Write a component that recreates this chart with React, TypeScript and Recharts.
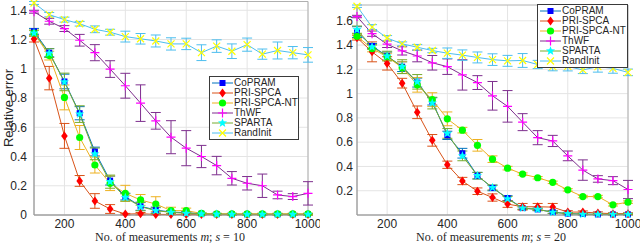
import React from 'react';
import { LineChart, Line, XAxis, YAxis, CartesianGrid, ErrorBar, ReferenceArea, Legend } from 'recharts';

const measurements = [100, 150, 200, 250, 300, 350, 400, 450, 500, 550, 600, 650, 700, 750, 800, 850, 900, 950, 1000];

// s = 10
const copram10 = [1.256, 1.11, 0.913, 0.696, 0.434, 0.235, 0.126, 0.06, 0.034, 0.02, 0.016, 0.009, 0.006, 0.005, 0.005, 0.005, 0.005, 0.005, 0.005];
const copramErr10 = [0.02, 0.028, 0.05, 0.045, 0.03, 0.03, 0.023, 0.028, 0.02, 0.01, 0.008, 0.005, 0.004, 0.004, 0.004, 0.004, 0.004, 0.004, 0.004];
const spca10 = [1.203, 0.936, 0.541, 0.233, 0.096, 0.041, 0.006, 0.009, 0.004, 0.004, 0.003, 0.003, 0.003, 0.003, 0.003, 0.003, 0.003, 0.003, 0.003];
const spcaErr10 = [0.02, 0.08, 0.085, 0.037, 0.05, 0.03, 0.005, 0.008, 0.003, 0.003, 0.003, 0.003, 0.003, 0.003, 0.003, 0.003, 0.003, 0.003, 0.003];
const spcaNt10 = [1.244, 1.09, 0.804, 0.53, 0.342, 0.217, 0.148, 0.103, 0.075, 0.03, 0.03, 0.011, 0.008, 0.008, 0.008, 0.008, 0.008, 0.008, 0.008];
const spcaNtErr10 = [0.02, 0.03, 0.085, 0.082, 0.055, 0.05, 0.055, 0.037, 0.05, 0.023, 0.017, 0.006, 0.005, 0.005, 0.005, 0.005, 0.005, 0.005, 0.005];
const thwf10 = [1.39, 1.325, 1.275, 1.195, 1.11, 0.998, 0.884, 0.765, 0.644, 0.532, 0.457, 0.4, 0.338, 0.251, 0.217, 0.2, 0.137, 0.126, 0.148];
const thwfErr10 = [0.01, 0.02, 0.02, 0.04, 0.055, 0.057, 0.085, 0.125, 0.057, 0.113, 0.12, 0.076, 0.063, 0.046, 0.046, 0.08, 0.026, 0.02, 0.08];
const sparta10 = [1.244, 1.107, 0.91, 0.69, 0.418, 0.228, 0.12, 0.057, 0.03, 0.018, 0.011, 0.007, 0.006, 0.005, 0.005, 0.005, 0.005, 0.005, 0.005];
const spartaErr10 = [0.02, 0.03, 0.06, 0.057, 0.04, 0.045, 0.025, 0.028, 0.02, 0.01, 0.008, 0.005, 0.004, 0.004, 0.004, 0.004, 0.004, 0.004, 0.004];
const rand10 = [1.45, 1.37, 1.336, 1.308, 1.27, 1.25, 1.22, 1.205, 1.19, 1.17, 1.17, 1.11, 1.155, 1.12, 1.165, 1.1, 1.125, 1.11, 1.095];
const randErr10 = [0.01, 0.015, 0.017, 0.016, 0.023, 0.02, 0.037, 0.036, 0.041, 0.042, 0.039, 0.054, 0.043, 0.05, 0.045, 0.035, 0.058, 0.042, 0.05];

// s = 20
const copram20 = [1.507, 1.393, 1.309, 1.222, 1.091, 0.936, 0.656, 0.509, 0.324, 0.223, 0.139, 0.057, 0.046, 0.024, 0.011, 0.008, 0.005, 0.005, 0.005];
const copramErr20 = [0.044, 0.02, 0.033, 0.04, 0.037, 0.03, 0.034, 0.04, 0.027, 0.023, 0.02, 0.01, 0.01, 0.01, 0.008, 0.006, 0.004, 0.004, 0.004];
const spca20 = [1.461, 1.344, 1.249, 1.086, 0.846, 0.615, 0.414, 0.28, 0.196, 0.144, 0.09, 0.068, 0.068, 0.065, 0.024, 0.024, 0.016, 0.011, 0.011];
const spcaErr20 = [0.02, 0.082, 0.055, 0.04, 0.052, 0.048, 0.03, 0.03, 0.027, 0.03, 0.027, 0.027, 0.027, 0.03, 0.012, 0.01, 0.01, 0.008, 0.008];
const spcaNt20 = [1.472, 1.371, 1.303, 1.214, 1.072, 0.95, 0.792, 0.699, 0.574, 0.46, 0.386, 0.337, 0.307, 0.269, 0.207, 0.152, 0.152, 0.084, 0.106];
const spcaNtErr20 = [0.02, 0.027, 0.03, 0.048, 0.06, 0.057, 0.057, 0.023, 0.048, 0.027, 0.015, 0.01, 0.01, 0.01, 0.01, 0.01, 0.01, 0.01, 0.01];
const thwf20 = [1.635, 1.494, 1.407, 1.352, 1.31, 1.254, 1.222, 1.154, 1.091, 0.982, 0.895, 0.765, 0.637, 0.61, 0.487, 0.37, 0.297, 0.283, 0.21];
const thwfErr20 = [0.01, 0.022, 0.027, 0.034, 0.048, 0.06, 0.064, 0.125, 0.057, 0.118, 0.13, 0.07, 0.058, 0.046, 0.04, 0.084, 0.027, 0.033, 0.075];
const sparta20 = [1.527, 1.385, 1.309, 1.222, 1.097, 0.922, 0.672, 0.487, 0.324, 0.226, 0.133, 0.057, 0.046, 0.022, 0.011, 0.006, 0.006, 0.006, 0.006];
const spartaErr20 = [0.03, 0.02, 0.04, 0.057, 0.06, 0.048, 0.04, 0.04, 0.027, 0.02, 0.02, 0.01, 0.01, 0.01, 0.008, 0.005, 0.005, 0.005, 0.005];
const rand20 = [1.72, 1.548, 1.458, 1.41, 1.382, 1.355, 1.333, 1.317, 1.298, 1.28, 1.27, 1.273, 1.24, 1.222, 1.224, 1.195, 1.222, 1.208, 1.175];
const randErr20 = [0.01, 0.02, 0.02, 0.016, 0.023, 0.018, 0.043, 0.043, 0.045, 0.048, 0.045, 0.057, 0.034, 0.034, 0.037, 0.03, 0.045, 0.04, 0.027];

const xTicks = [200, 400, 600, 800, 1000];
const yTicks10 = [0, 0.2, 0.4, 0.6, 0.8, 1, 1.2, 1.4];
const yTicks20 = [0.2, 0.4, 0.6, 0.8, 1, 1.2, 1.4, 1.6];

type Shape = 'square' | 'diamond' | 'circle' | 'plus' | 'star' | 'cross';

const series: { key: string; name: string; line: string; marker: string; shape: Shape }[] = [
    { key: 'copram', name: 'CoPRAM', line: '#0072BD', marker: '#0000FF', shape: 'square' },
    { key: 'spca', name: 'PRI-SPCA', line: '#D95319', marker: '#FF0000', shape: 'diamond' },
    { key: 'spcaNt', name: 'PRI-SPCA-NT', line: '#EDB120', marker: '#00FF00', shape: 'circle' },
    { key: 'thwf', name: 'ThWF', line: '#7E2F8E', marker: '#FF00FF', shape: 'plus' },
    { key: 'sparta', name: 'SPARTA', line: '#77AC30', marker: '#00FFFF', shape: 'star' },
    { key: 'rand', name: 'RandInit', line: '#4DBEEE', marker: '#FFFF00', shape: 'cross' },
];

const buildData = (vals: Record<string, number[]>, errs: Record<string, number[]>) =>
    measurements.map((m, i) => {
        const row: Record<string, number> = { m };
        Object.keys(vals).forEach(k => {
            row[k] = vals[k][i];
            row[k + 'Err'] = errs[k][i];
        });
        return row;
    });

const data10 = buildData(
    { copram: copram10, spca: spca10, spcaNt: spcaNt10, thwf: thwf10, sparta: sparta10, rand: rand10 },
    { copram: copramErr10, spca: spcaErr10, spcaNt: spcaNtErr10, thwf: thwfErr10, sparta: spartaErr10, rand: randErr10 }
);
const data20 = buildData(
    { copram: copram20, spca: spca20, spcaNt: spcaNt20, thwf: thwf20, sparta: sparta20, rand: rand20 },
    { copram: copramErr20, spca: spcaErr20, spcaNt: spcaNtErr20, thwf: thwfErr20, sparta: spartaErr20, rand: randErr20 }
);

const starPoints = (cx: number, cy: number, r: number) => {
    const pts: string[] = [];
    for (let i = 0; i < 10; i++) {
        const rr = i % 2 === 0 ? r : r * 0.42;
        const a = -Math.PI / 2 + (i * Math.PI) / 5;
        pts.push(`${cx + rr * Math.cos(a)},${cy + rr * Math.sin(a)}`);
    }
    return pts.join(' ');
};

const Marker = ({ shape, color, cx, cy }: { shape: Shape; color: string; cx: number; cy: number }) => {
    switch (shape) {
        case 'square':
            return <rect x={cx - 3} y={cy - 3} width={6} height={6} fill={color} />;
        case 'diamond':
            return <polygon points={`${cx},${cy - 4.5} ${cx + 3.3},${cy} ${cx},${cy + 4.5} ${cx - 3.3},${cy}`} fill={color} />;
        case 'circle':
            return <circle cx={cx} cy={cy} r={3.6} fill={color} />;
        case 'plus':
            return <path d={`M${cx - 4.5},${cy}H${cx + 4.5}M${cx},${cy - 4.5}V${cy + 4.5}`} stroke={color} strokeWidth={1.2} fill="none" />;
        case 'star':
            return <polygon points={starPoints(cx, cy, 4.8)} fill={color} />;
        default:
            return <path d={`M${cx - 3.5},${cy - 3.5}L${cx + 3.5},${cy + 3.5}M${cx - 3.5},${cy + 3.5}L${cx + 3.5},${cy - 3.5}`} stroke={color} strokeWidth={1.2} fill="none" />;
    }
};

const LegendBox = () => (
    <div style={{ border: '1px solid #3a3a3a', background: '#fff', padding: '1px 0 1px 0', boxSizing: 'border-box' }}>
        {series.map(s => (
            <div key={s.key} style={{ display: 'flex', alignItems: 'center', height: 10 }}>
                <svg width={24} height={10} style={{ flex: 'none' }}>
                    <line x1={2} y1={5} x2={23} y2={5} stroke={s.line} strokeWidth={1} />
                    <Marker shape={s.shape} color={s.marker} cx={12.5} cy={5} />
                </svg>
                <span style={{ fontFamily: '"Liberation Sans", Arial, sans-serif', fontSize: 10, color: '#262626', lineHeight: '10px', whiteSpace: 'nowrap' }}>
                    {s.name}
                </span>
            </div>
        ))}
    </div>
);

const tickStyle = { fontFamily: '"Liberation Sans", Arial, sans-serif', fontSize: 12, fill: '#262626' };

interface PanelProps {
    data: Record<string, number>[];
    yMax: number;
    yTicks: number[];
    top: number;
    yAxisWidth: number;
    yTickGap: number;
    legendPos: { left: number; top: number; width: number };
}

const Panel: React.FC<PanelProps> = ({ data, yMax, yTicks, top, yAxisWidth, yTickGap, legendPos }) => (
    <LineChart width={320} height={244} data={data} margin={{ top, right: 12, bottom: 0, left: 0 }}>
        <CartesianGrid stroke="#e4e4e4" horizontalValues={yTicks} verticalValues={xTicks} />
        <XAxis
            dataKey="m"
            type="number"
            domain={[100, 1000]}
            ticks={xTicks}
            height={29}
            tickLine={false}
            tickSize={0}
            tickMargin={4}
            stroke="#9a9a9a"
            tick={tickStyle}
        />
        <YAxis
            type="number"
            domain={[0, yMax]}
            ticks={yTicks}
            width={yAxisWidth}
            tickLine={false}
            tickSize={0}
            tickMargin={yTickGap}
            stroke="#9a9a9a"
            tick={tickStyle}
            tickFormatter={(v: number) => String(+v.toFixed(1))}
        />
        <ReferenceArea x1={100} x2={1000} y1={0} y2={yMax} fill="none" stroke="#b0b0b0" strokeWidth={1} />
        {series.map(s => (
            <Line
                key={s.key}
                dataKey={s.key}
                name={s.name}
                stroke={s.line}
                strokeWidth={1}
                isAnimationActive={false}
                dot={(p: any) => <Marker key={`${s.key}-${p.index}`} shape={s.shape} color={s.marker} cx={p.cx} cy={p.cy} />}
                activeDot={false}
            >
                <ErrorBar dataKey={s.key + 'Err'} width={5} stroke={s.line} strokeWidth={1} direction="y" />
            </Line>
        ))}
        <Legend
            layout="vertical"
            align="center"
            verticalAlign="middle"
            wrapperStyle={{ left: legendPos.left, top: legendPos.top, width: legendPos.width }}
            content={() => <LegendBox />}
        />
    </LineChart>
);

const xLabelStyle: React.CSSProperties = {
    position: 'absolute',
    top: 231,
    transform: 'translateX(-50%)',
    fontFamily: '"Liberation Serif", "Times New Roman", serif',
    fontSize: 12,
    lineHeight: '13px',
    color: '#262626',
    whiteSpace: 'nowrap',
};

export default function App() {
    return (
        <div style={{ position: 'absolute', left: 0, top: 0, width: 640, height: 244, background: '#fff', overflow: 'hidden' }}>
            <div style={{ position: 'absolute', left: 0, top: 0 }}>
                <Panel
                    data={data10}
                    yMax={1.46}
                    yTicks={yTicks10}
                    top={1.5}
                    yAxisWidth={34}
                    yTickGap={7}
                    legendPos={{ left: 209, top: 76, width: 90 }}
                />
            </div>
            <div style={{ position: 'absolute', left: 320, top: 0 }}>
                <Panel
                    data={data20}
                    yMax={1.73}
                    yTicks={yTicks20}
                    top={5}
                    yAxisWidth={37}
                    yTickGap={4}
                    legendPos={{ left: 217, top: 4, width: 91 }}
                />
            </div>
            <div
                style={{
                    position: 'absolute',
                    left: 7.6,
                    top: 108,
                    transform: 'translate(-50%, -50%) rotate(-90deg)',
                    fontFamily: '"Liberation Sans", Arial, sans-serif',
                    fontSize: 13,
                    color: '#262626',
                    whiteSpace: 'nowrap',
                }}
            >
                Relative error
            </div>
            <div style={{ ...xLabelStyle, left: 170 }}>
                No. of measurements <i>m</i>; <i>s</i> = 10
            </div>
            <div style={{ ...xLabelStyle, left: 491 }}>
                No. of measurements <i>m</i>; <i>s</i> = 20
            </div>
        </div>
    );
}
